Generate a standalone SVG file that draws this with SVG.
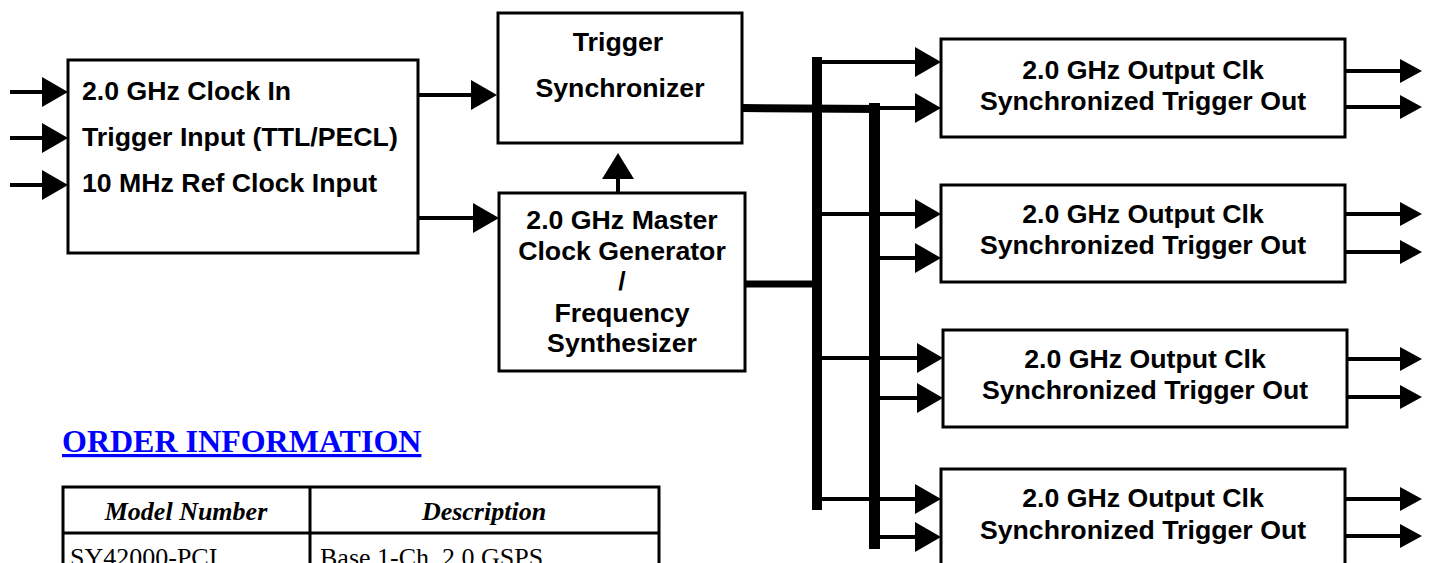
<svg xmlns="http://www.w3.org/2000/svg" width="1431" height="563" viewBox="0 0 1431 563">
<style>
.box{fill:#fff;stroke:#000;stroke-width:3}
.t{font-family:"Liberation Sans",Arial,sans-serif;font-weight:bold;font-size:26.7px;fill:#000}
.c{text-anchor:middle}
.w{stroke:#000;stroke-width:4;fill:none}
.thick{stroke:#000;stroke-width:8;fill:none}
.bus{stroke:#000;stroke-width:10;fill:none}
.ser{font-family:"Liberation Serif","Times New Roman",serif;font-size:26px;fill:#000}
</style>
<defs>
<marker id="aL" markerUnits="userSpaceOnUse" viewBox="0 0 26 30" markerWidth="26" markerHeight="30" refX="4" refY="15" orient="auto"><path d="M0,0 L26,15 L0,30 z" fill="#000"/></marker>
<marker id="aS" markerUnits="userSpaceOnUse" viewBox="0 0 22 24" markerWidth="22" markerHeight="24" refX="4" refY="12" orient="auto"><path d="M0,0 L22,12 L0,24 z" fill="#000"/></marker>
<marker id="aU" markerUnits="userSpaceOnUse" viewBox="0 0 26 32" markerWidth="26" markerHeight="32" refX="4" refY="16" orient="auto"><path d="M0,0 L26,16 L0,32 z" fill="#000"/></marker>
</defs>

<g id="connectors">
<line class="w" x1="10" y1="92" x2="46" y2="92" marker-end="url(#aL)"/>
<line class="w" x1="10" y1="138" x2="46" y2="138" marker-end="url(#aL)"/>
<line class="w" x1="10" y1="185" x2="46" y2="185" marker-end="url(#aL)"/>
<line class="w" x1="418" y1="95" x2="475" y2="95" marker-end="url(#aL)"/>
<line class="w" x1="418" y1="218" x2="477" y2="218" marker-end="url(#aL)"/>
<line class="w" x1="618" y1="193" x2="618" y2="175" marker-end="url(#aU)"/>
<line class="thick" x1="742" y1="108" x2="880" y2="109"/>
<line class="thick" x1="745" y1="284" x2="817" y2="284" style="stroke-width:7"/>
<line class="bus" x1="817" y1="57" x2="817" y2="510"/>
<line class="bus" x1="874.5" y1="103" x2="874.5" y2="549" style="stroke-width:11"/>
<line class="w" x1="817" y1="62" x2="919" y2="62" marker-end="url(#aL)"/>
<line class="w" x1="874" y1="108" x2="919" y2="108" marker-end="url(#aL)"/>
<line class="w" x1="817" y1="214" x2="919" y2="214" marker-end="url(#aL)"/>
<line class="w" x1="874" y1="258" x2="919" y2="258" marker-end="url(#aL)"/>
<line class="w" x1="817" y1="358" x2="921" y2="358" marker-end="url(#aL)"/>
<line class="w" x1="874" y1="398" x2="921" y2="398" marker-end="url(#aL)"/>
<line class="w" x1="817" y1="499" x2="919" y2="499" marker-end="url(#aL)"/>
<line class="w" x1="874" y1="537" x2="919" y2="537" marker-end="url(#aL)"/>
<line class="w" x1="1345" y1="71" x2="1404" y2="71" marker-end="url(#aS)"/>
<line class="w" x1="1345" y1="107" x2="1404" y2="107" marker-end="url(#aS)"/>
<line class="w" x1="1345" y1="214" x2="1404" y2="214" marker-end="url(#aS)"/>
<line class="w" x1="1345" y1="252" x2="1404" y2="252" marker-end="url(#aS)"/>
<line class="w" x1="1347" y1="359" x2="1404" y2="359" marker-end="url(#aS)"/>
<line class="w" x1="1347" y1="397" x2="1404" y2="397" marker-end="url(#aS)"/>
<line class="w" x1="1345" y1="499" x2="1404" y2="499" marker-end="url(#aS)"/>
<line class="w" x1="1345" y1="536" x2="1404" y2="536" marker-end="url(#aS)"/>
</g>

<g id="inputs">
<rect class="box" x="68" y="60" width="350" height="193"/>
<text class="t" x="82" y="100">2.0 GHz Clock In</text>
<text class="t" x="82" y="146">Trigger Input (TTL/PECL)</text>
<text class="t" x="82" y="192">10 MHz Ref Clock Input</text>
</g>

<g id="trigger-sync">
<rect class="box" x="498" y="13" width="244" height="130"/>
<text class="t c" x="618" y="51">Trigger</text>
<text class="t c" x="620" y="97">Synchronizer</text>
</g>

<g id="master-clock">
<rect class="box" x="499" y="193" width="246" height="178"/>
<text class="t c" x="622" y="229">2.0 GHz Master</text>
<text class="t c" x="622" y="260">Clock Generator</text>
<text class="t c" x="622" y="290">/</text>
<text class="t c" x="622" y="322">Frequency</text>
<text class="t c" x="622" y="352">Synthesizer</text>
</g>

<g id="out1">
<rect class="box" x="941" y="39" width="404" height="98"/>
<text class="t c" x="1143" y="79">2.0 GHz Output Clk</text>
<text class="t c" x="1143" y="110">Synchronized Trigger Out</text>
</g>
<g id="out2">
<rect class="box" x="941" y="185" width="404" height="97"/>
<text class="t c" x="1143" y="223">2.0 GHz Output Clk</text>
<text class="t c" x="1143" y="254">Synchronized Trigger Out</text>
</g>
<g id="out3">
<rect class="box" x="943" y="330" width="404" height="97"/>
<text class="t c" x="1145" y="368">2.0 GHz Output Clk</text>
<text class="t c" x="1145" y="399">Synchronized Trigger Out</text>
</g>
<g id="out4">
<rect class="box" x="941" y="469" width="404" height="110"/>
<text class="t c" x="1143" y="507">2.0 GHz Output Clk</text>
<text class="t c" x="1143" y="539">Synchronized Trigger Out</text>
</g>

<g id="order-info">
<text x="62" y="452" font-family="'Liberation Serif','Times New Roman',serif" font-weight="bold" font-size="32" fill="#0000ff" text-decoration="underline">ORDER INFORMATION</text>
<g fill="none" stroke="#000" stroke-width="3">
<path d="M63,580 V487 H659 V580"/>
<line x1="63" y1="533" x2="659" y2="533"/>
<line x1="310" y1="487" x2="310" y2="580"/>
</g>
<text class="ser c" x="186" y="520" font-weight="bold" font-style="italic">Model Number</text>
<text class="ser c" x="484" y="520" font-weight="bold" font-style="italic">Description</text>
<text class="ser" x="70" y="566">SY42000-PCI</text>
<text class="ser" x="320" y="566">Base 1-Ch, 2.0 GSPS</text>
</g>
</svg>
